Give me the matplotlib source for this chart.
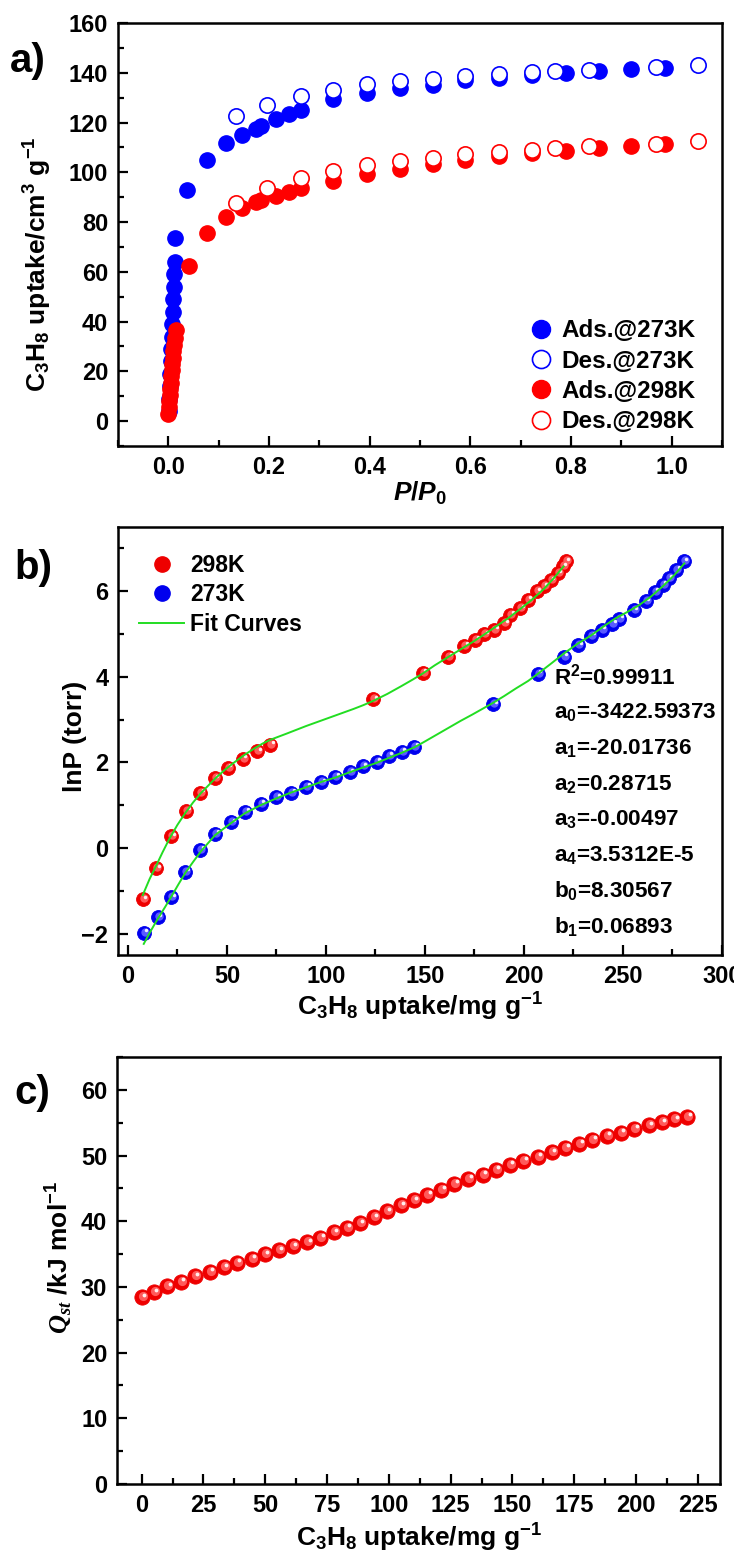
import matplotlib
matplotlib.use('Agg')
import matplotlib.pyplot as plt
from matplotlib.ticker import MultipleLocator
from matplotlib.transforms import offset_copy

# ---------------- data ----------------
# a) isotherms, P/P0 vs uptake (cm3/g)
ads273_p = [0.001, 0.002, 0.003, 0.004, 0.005, 0.006, 0.007, 0.008, 0.009, 0.010,
            0.011, 0.012, 0.013, 0.014, 0.037, 0.077, 0.114, 0.146, 0.174, 0.185,
            0.213, 0.239, 0.264, 0.327, 0.395, 0.460, 0.526, 0.590, 0.656, 0.722,
            0.790, 0.856, 0.920, 0.986]
ads273_q = [4, 9, 14, 19, 24, 29, 34, 39, 44, 49,
            54, 59, 64, 73.5, 93, 105, 111.7, 115, 117.6, 118.8,
            121.5, 123.5, 125, 129.5, 132, 134, 135, 137, 138, 139,
            140, 140.8, 141.5, 141.8]
des273_p = [0.134, 0.197, 0.264, 0.327, 0.395, 0.460, 0.526, 0.590, 0.656, 0.722,
            0.769, 0.835, 0.968, 1.053]
des273_q = [122.8, 127, 130.5, 133, 135.5, 136.6, 137.6, 138.8, 139.5, 140.3,
            140.6, 141.2, 142.2, 143]
ads298_p = [0.000, 0.001, 0.002, 0.003, 0.004, 0.005, 0.006, 0.007, 0.008, 0.009,
            0.010, 0.011, 0.013, 0.015, 0.042, 0.077, 0.114, 0.146, 0.174, 0.185,
            0.213, 0.239, 0.264, 0.327, 0.395, 0.460, 0.526, 0.590, 0.656, 0.722,
            0.790, 0.856, 0.920, 0.986]
ads298_q = [3, 5.5, 8, 10.5, 13, 15.5, 18, 20.5, 23, 25.5,
            28, 30.5, 33.5, 36.5, 62.5, 75.5, 82, 85.5, 88, 89,
            90.5, 92, 93.7, 96.5, 99.4, 101.4, 103.4, 105, 106.5, 107.6,
            108.6, 109.6, 110.5, 111.5]
des298_p = [0.134, 0.197, 0.264, 0.327, 0.395, 0.460, 0.526, 0.590, 0.656, 0.722,
            0.769, 0.835, 0.968, 1.053]
des298_q = [87.8, 93.5, 97.6, 100.6, 103, 104.4, 105.9, 107.3, 108.3, 109.1,
            109.6, 110.4, 111.5, 112.5]

# b) lnP vs uptake (mg/g)
b298_n = [7.4, 14.4, 21.8, 29.4, 36.6, 43.8, 50.5, 58.1, 65.3, 72,
          124, 149, 161.7, 169.9, 175.4, 180, 185, 190, 193, 198,
          202, 206.5, 210, 213.6, 217, 219.5, 221]
b298_lnp = [-1.2, -0.47, 0.28, 0.87, 1.29, 1.63, 1.87, 2.08, 2.26, 2.41,
            3.47, 4.09, 4.47, 4.73, 4.86, 5.0, 5.1, 5.25, 5.45, 5.6,
            5.8, 6.0, 6.12, 6.26, 6.42, 6.58, 6.7]
b273_n = [7.9, 15.1, 21.8, 29, 36.6, 44, 52.2, 59.3, 67.2, 74.9,
          82.5, 90, 97.6, 104.8, 112, 118.7, 125.6, 131.6, 138.3, 144.7,
          184.4, 206.9, 220, 227.3, 234, 239.2, 244.7, 248, 255.5, 261.5,
          266, 270, 273, 277, 280.6]
b273_lnp = [-1.98, -1.62, -1.15, -0.56, -0.04, 0.33, 0.6, 0.85, 1.03, 1.18,
            1.29, 1.43, 1.54, 1.66, 1.77, 1.91, 2.01, 2.15, 2.25, 2.37,
            3.36, 4.07, 4.47, 4.74, 4.96, 5.1, 5.24, 5.36, 5.56, 5.76,
            5.99, 6.15, 6.3, 6.5, 6.7]
fit298_n = [7.5, 11, 14, 17.5, 21, 25, 29, 33, 37, 44, 49, 54, 59, 64, 68,
            72, 76, 80, 85, 90, 96, 102, 108, 114, 119, 124, 131, 138, 144,
            149, 155, 162, 168, 174, 180, 186, 192, 198, 204, 210, 215, 220]
fit298_lnp = [-1.1, -0.72, -0.44, -0.1, 0.22, 0.54, 0.82, 1.07, 1.29, 1.62,
              1.83, 2.01, 2.18, 2.33, 2.44, 2.53, 2.6, 2.67, 2.76, 2.85, 2.95,
              3.05, 3.15, 3.25, 3.34, 3.44, 3.6, 3.78, 3.94, 4.08, 4.27, 4.47,
              4.64, 4.81, 4.99, 5.18, 5.37, 5.58, 5.8, 6.05, 6.3, 6.58]
fit273_n = [8, 11.5, 15, 18.5, 22, 25.5, 29, 33, 37, 44, 52, 59, 67, 75, 82,
            90, 98, 105, 112, 118, 125, 131, 138, 145, 150, 156, 162, 168,
            174, 179, 184, 190, 196, 202, 207, 214, 220, 227, 234, 240, 246,
            252, 258, 264, 270, 276, 281]
fit273_lnp = [-2.24, -1.94, -1.66, -1.4, -1.13, -0.85, -0.58, -0.32, -0.07,
              0.3, 0.58, 0.81, 1.0, 1.16, 1.29, 1.42, 1.55, 1.65, 1.77, 1.87,
              1.98, 2.09, 2.22, 2.36, 2.49, 2.65, 2.81, 2.97, 3.12, 3.25, 3.38,
              3.55, 3.73, 3.9, 4.07, 4.32, 4.54, 4.77, 4.97, 5.17, 5.36,
              5.51, 5.67, 5.87, 6.11, 6.38, 6.65]
fit_params = ['R$^2$=0.99911', 'a$_0$=-3422.59373', 'a$_1$=-20.01736',
              'a$_2$=0.28715', 'a$_3$=-0.00497', 'a$_4$=3.5312E-5',
              'b$_0$=8.30567', 'b$_1$=0.06893']

# c) Qst vs uptake
qst_n = [0, 4.9, 10.4, 15.7, 21.4, 27.5, 33.1, 38.4, 44.5, 49.8, 55.5, 61.2,
         66.9, 72.2, 77.8, 83, 88.3, 93.8, 99.1, 104.8, 110, 115.5, 121.2,
         126.5, 132.2, 137.9, 143.2, 148.9, 154.4, 160.2, 165.9, 171.4,
         177.1, 182.4, 188.1, 193.8, 199.4, 205.1, 210.4, 215.5, 220.8]
qst = [28.4, 29.2, 30.1, 30.8, 31.6, 32.3, 33.0, 33.7, 34.3, 35.0, 35.6, 36.2,
       36.8, 37.5, 38.3, 39.0, 39.7, 40.6, 41.5, 42.4, 43.2, 44.0, 44.8,
       45.7, 46.5, 47.1, 47.8, 48.6, 49.2, 49.8, 50.5, 51.2, 51.8, 52.4,
       53.0, 53.5, 54.1, 54.6, 55.1, 55.5, 55.9]

# ---------------- style ----------------
plt.rcParams['font.family'] = ['Liberation Sans', 'DejaVu Sans']
plt.rcParams['font.weight'] = 'bold'
plt.rcParams['axes.labelweight'] = 'bold'
plt.rcParams['mathtext.fontset'] = 'custom'
plt.rcParams['mathtext.rm'] = 'Liberation Sans:bold'
plt.rcParams['mathtext.bf'] = 'Liberation Sans:bold'
plt.rcParams['mathtext.it'] = 'Liberation Sans:italic:bold'
plt.rcParams['mathtext.sf'] = 'Liberation Serif:italic:bold'
plt.rcParams['mathtext.default'] = 'bf'

TICK_FS = 17
LABEL_FS = 19


def style_axes(ax):
    for s in ax.spines.values():
        s.set_linewidth(1.8)
    ax.tick_params(which='both', direction='in', top=False, right=False,
                   labelsize=TICK_FS, width=1.6)
    ax.tick_params(which='major', length=7, pad=7)
    ax.tick_params(which='minor', length=4)


def spheres(ax, fig, x, y, base, light, ms):
    ax.plot(x, y, 'o', ls='none', ms=ms, mfc=base, mec=base, mew=0.6, zorder=3)
    tr = offset_copy(ax.transData, fig=fig, x=1.0, y=1.0, units='dots')
    ax.plot(x, y, 'o', ls='none', ms=ms * 0.6, mfc=light, mec='none',
            transform=tr, zorder=4)
    tr2 = offset_copy(ax.transData, fig=fig, x=2.5, y=2.5, units='dots')
    ax.plot(x, y, 'o', ls='none', ms=ms * 0.25, mfc='white', mec='none',
            alpha=0.9, transform=tr2, zorder=5)


fig = plt.figure(figsize=(7.34, 15.57), dpi=100)
W, H = 734.0, 1557.0
ax_a = fig.add_axes([118 / W, 1 - 446 / H, 604 / W, 423 / H])
ax_b = fig.add_axes([118 / W, 1 - 955 / H, 604 / W, 428 / H])
ax_c = fig.add_axes([117 / W, 1 - 1484 / H, 603 / W, 427 / H])

# ---------------- a) ----------------
ax = ax_a
ms_a = 11
ax.plot(ads273_p, ads273_q, 'o', ls='none', ms=ms_a, color='#0000ff')
ax.plot(ads298_p, ads298_q, 'o', ls='none', ms=ms_a, color='#ff0000', zorder=3)
ax.plot(des273_p, des273_q, 'o', ls='none', ms=ms_a, mfc='white', mec='#0000ff',
        mew=1.2, zorder=4)
ax.plot(des298_p, des298_q, 'o', ls='none', ms=ms_a, mfc='white', mec='#ff0000',
        mew=1.2, zorder=4)
h = [
    plt.Line2D([], [], marker='o', ls='none', ms=13, color='#0000ff'),
    plt.Line2D([], [], marker='o', ls='none', ms=13, mfc='white', mec='#0000ff', mew=1.2),
    plt.Line2D([], [], marker='o', ls='none', ms=13, color='#ff0000'),
    plt.Line2D([], [], marker='o', ls='none', ms=13, mfc='white', mec='#ff0000', mew=1.2),
]
ax.legend(h, ['Ads.@273K', 'Des.@273K', 'Ads.@298K', 'Des.@298K'],
          loc='lower right', bbox_to_anchor=(0.985, -0.01), frameon=False,
          fontsize=17.5, handletextpad=0.25, labelspacing=0.3, handlelength=1.2,
          borderaxespad=0.3)
ax.set_xlim(-0.1, 1.1)
ax.set_ylim(-10, 160)
ax.xaxis.set_major_locator(MultipleLocator(0.2))
ax.xaxis.set_minor_locator(MultipleLocator(0.1))
ax.yaxis.set_major_locator(MultipleLocator(20))
ax.yaxis.set_minor_locator(MultipleLocator(10))
style_axes(ax)
ax.set_xlabel(r'$\mathit{P/P_0}$', fontsize=LABEL_FS)
ax.set_ylabel(r'C$_3$H$_8$ uptake/cm$^3$ g$^{-1}$', fontsize=LABEL_FS)
ax.xaxis.label.set_va('center')
ax.yaxis.label.set_va('center')
ax.xaxis.set_label_coords(0.5, -0.111)
ax.yaxis.set_label_coords(-0.132, 0.43)
fig.text(10 / W, 1 - 61 / H, 'a)', fontsize=29, fontweight='bold', va='center')

# ---------------- b) ----------------
ax = ax_b
ax.plot(fit298_n, fit298_lnp, '-', color='#22dd22', lw=1.4, zorder=6)
ax.plot(fit273_n, fit273_lnp, '-', color='#22dd22', lw=1.4, zorder=6)
spheres(ax, fig, b298_n, b298_lnp, '#ee0000', '#ff5a5a', 10)
spheres(ax, fig, b273_n, b273_lnp, '#0000ee', '#5a5aff', 10)
hb = [
    plt.Line2D([], [], marker='o', ls='none', ms=11, color='#ee0000'),
    plt.Line2D([], [], marker='o', ls='none', ms=11, color='#0000ee'),
    plt.Line2D([], [], ls='-', lw=1.4, color='#22dd22'),
]
ax.legend(hb, ['298K', '273K', 'Fit Curves'], loc='upper left',
          bbox_to_anchor=(0.0, 0.985), frameon=False, fontsize=16.5,
          handletextpad=0.25, labelspacing=0.28, handlelength=2.0,
          borderaxespad=0.5)
for i, t in enumerate(fit_params):
    ax.text(0.722, 0.6495 - i * 0.0835, t, transform=ax.transAxes,
            fontsize=16.2, fontweight='bold', va='center', ha='left')
ax.set_xlim(-5, 300)
ax.set_ylim(-2.5, 7.5)
ax.xaxis.set_major_locator(MultipleLocator(50))
ax.xaxis.set_minor_locator(MultipleLocator(25))
ax.yaxis.set_major_locator(MultipleLocator(2))
ax.yaxis.set_minor_locator(MultipleLocator(1))
style_axes(ax)
ax.set_xlabel(r'C$_3$H$_8$ uptake/mg g$^{-1}$', fontsize=LABEL_FS)
ax.set_ylabel('lnP (torr)', fontsize=LABEL_FS)
ax.xaxis.label.set_va('center')
ax.yaxis.label.set_va('center')
ax.xaxis.set_label_coords(0.5, -0.121)
ax.yaxis.set_label_coords(-0.071, 0.51)
fig.text(14 / W, 1 - 568 / H, 'b)', fontsize=29, fontweight='bold', va='center')

# ---------------- c) ----------------
ax = ax_c
spheres(ax, fig, qst_n, qst, '#ee0000', '#ff5a5a', 11)
ax.set_xlim(-10, 234)
ax.set_ylim(0, 65)
ax.xaxis.set_major_locator(MultipleLocator(25))
ax.xaxis.set_minor_locator(MultipleLocator(12.5))
ax.yaxis.set_major_locator(MultipleLocator(10))
ax.yaxis.set_minor_locator(MultipleLocator(5))
style_axes(ax)
ax.set_xlabel(r'C$_3$H$_8$ uptake/mg g$^{-1}$', fontsize=LABEL_FS)
ax.set_ylabel(r'$\mathsf{Q_{st}}$ /kJ mol$^{-1}$', fontsize=LABEL_FS)
ax.xaxis.label.set_va('center')
ax.yaxis.label.set_va('center')
ax.xaxis.set_label_coords(0.5, -0.126)
ax.yaxis.set_label_coords(-0.095, 0.53)
fig.text(14 / W, 1 - 1093 / H, 'c)', fontsize=29, fontweight='bold', va='center')

fig.savefig('out.png', dpi=100)
